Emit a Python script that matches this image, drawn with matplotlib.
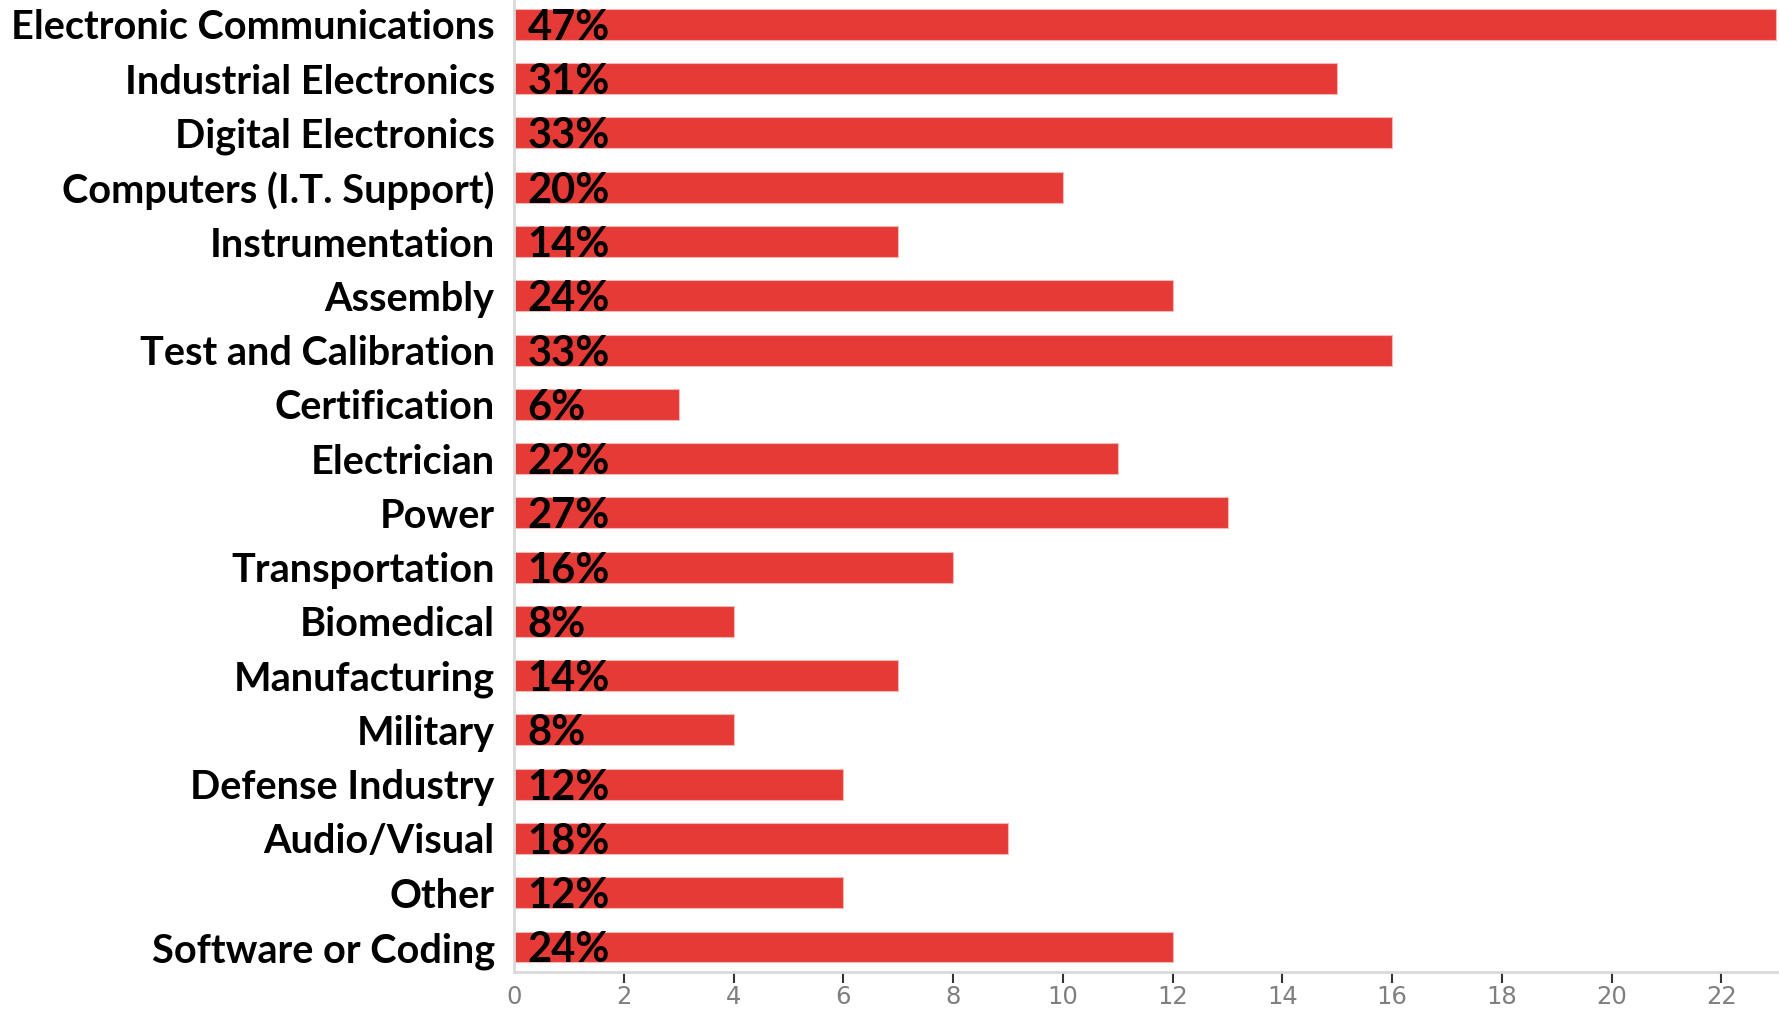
import matplotlib.pyplot as plt

categories = ['Electronic Communications', 'Industrial Electronics', 'Digital Electronics',
              'Computers (I.T. Support)', 'Instrumentation', 'Assembly', 'Test and Calibration',
              'Certification', 'Electrician', 'Power', 'Transportation', 'Biomedical',
              'Manufacturing', 'Military', 'Defense Industry', 'Audio/Visual', 'Other',
              'Software or Coding']
counts = [23, 15, 16, 10, 7, 12, 16, 3, 11, 13, 8, 4, 7, 4, 6, 9, 6, 12]
percents = ['47%', '31%', '33%', '20%', '14%', '24%', '33%', '6%', '22%', '27%',
            '16%', '8%', '14%', '8%', '12%', '18%', '12%', '24%']
xticks = [0, 2, 4, 6, 8, 10, 12, 14, 16, 18, 20, 22]

fig = plt.figure(figsize=(17.79, 10.11), dpi=100)
ax = fig.add_axes([0.289, 0.0386, 0.711, 0.9614])

y = list(range(len(categories)))
ax.barh(y, counts, height=0.57, color='#e53a35', edgecolor='#f4b8b6', linewidth=0.8)

for i, p in enumerate(percents):
    ax.annotate(p, (0, i), xytext=(9.5, -2.5), textcoords='offset points',
                ha='left', va='center', fontsize=30, fontweight='bold',
                family='Lato', color='black')

ax.set_yticks(y)
ax.set_yticklabels(categories, fontsize=28.5, fontweight='bold', family='Lato')
ax.tick_params(axis='y', length=0, pad=14)

ax.set_xticks(xticks)
ax.set_xticklabels([str(t) for t in xticks], fontsize=17.5, color='#7f7f7f',
                   family=['Liberation Sans Narrow', 'DejaVu Sans'])
ax.tick_params(axis='x', length=8, width=1.5, color='#333333', pad=1.5)
ax.xaxis.get_major_ticks()[0].tick1line.set_visible(False)

ax.set_xlim(0, 23.05)
ax.set_ylim(len(categories) - 1 + 0.46, -0.45)

for s in ['top', 'right']:
    ax.spines[s].set_visible(False)
for s in ['left', 'bottom']:
    ax.spines[s].set_color('#d9d9d9')
    ax.spines[s].set_linewidth(2)

plt.savefig('out.png', dpi=100)
